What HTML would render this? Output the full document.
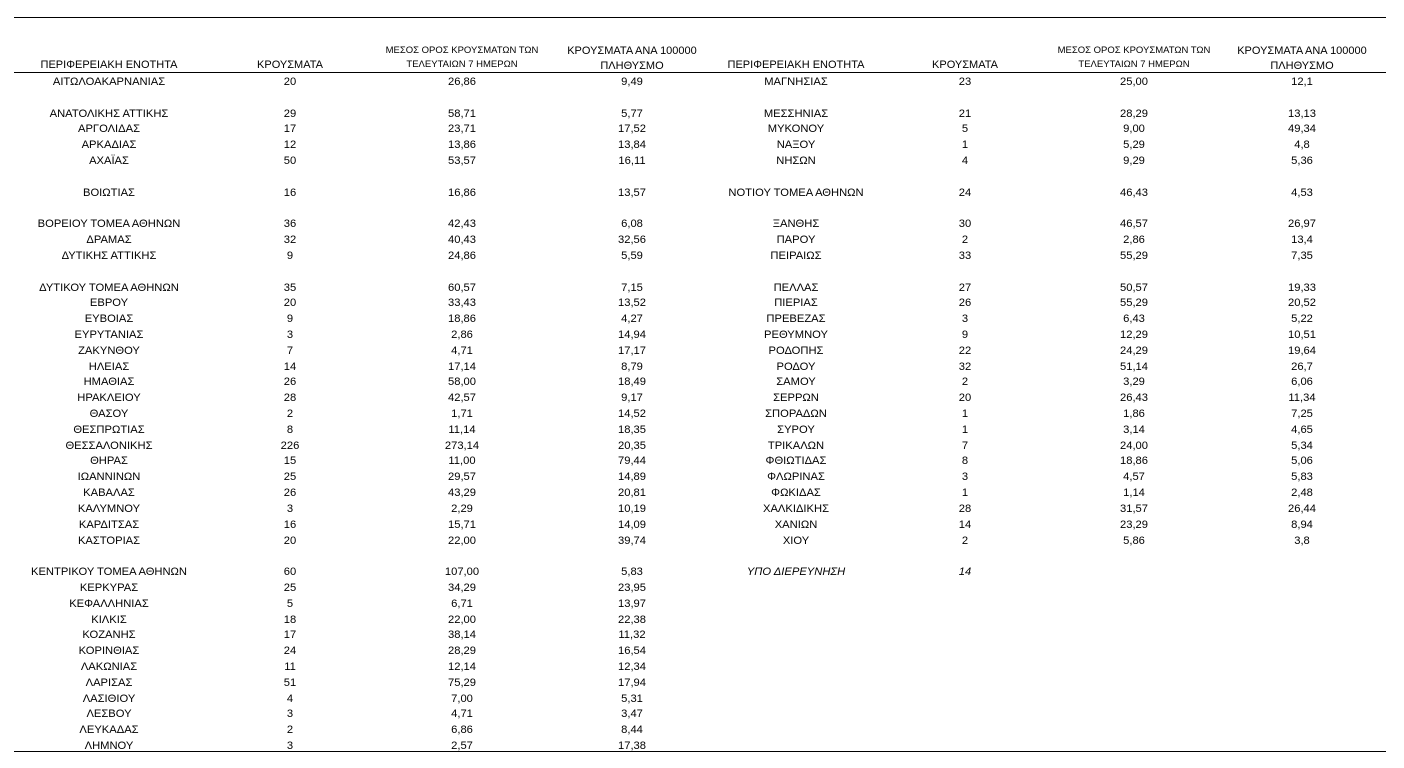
<!DOCTYPE html>
<html><head><meta charset="utf-8"><style>
body{margin:0;width:1404px;height:768px;background:#fff;position:relative;font-family:"Liberation Sans","DejaVu Sans",sans-serif;color:#000;overflow:hidden}
.ln{position:absolute;left:14px;width:1372px;height:1px;background:#000}
.h{position:absolute;text-align:center;font-size:11px;line-height:13px}
.hs{font-size:9.5px;line-height:14px}
table{position:absolute;left:14px;top:75px;border-collapse:collapse;table-layout:fixed;width:1376px;font-size:11.2px}
td{height:15.81px;padding:0;text-align:center;white-space:nowrap;line-height:15.81px}
i{font-style:italic}
</style></head><body>
<div class="ln" style="top:17px"></div>
<div class="ln" style="top:72px"></div>
<div class="ln" style="top:751px"></div>

<div class="h" style="left:14px;width:190px;top:59px">ΠΕΡΙΦΕΡΕΙΑΚΗ ΕΝΟΤΗΤΑ</div>
<div class="h" style="left:204px;width:172px;top:59px">ΚΡΟΥΣΜΑΤΑ</div>
<div class="h hs" style="left:362px;width:200px;top:44px">ΜΕΣΟΣ ΟΡΟΣ ΚΡΟΥΣΜΑΤΩΝ ΤΩΝ<br>ΤΕΛΕΥΤΑΙΩΝ 7 ΗΜΕΡΩΝ</div>
<div class="h" style="left:532px;width:200px;top:44px;line-height:15px">ΚΡΟΥΣΜΑΤΑ ΑΝΑ 100000<br>ΠΛΗΘΥΣΜΟ</div>
<div class="h" style="left:716px;width:160px;top:59px">ΠΕΡΙΦΕΡΕΙΑΚΗ ΕΝΟΤΗΤΑ</div>
<div class="h" style="left:876px;width:178px;top:59px">ΚΡΟΥΣΜΑΤΑ</div>
<div class="h hs" style="left:1034px;width:200px;top:44px">ΜΕΣΟΣ ΟΡΟΣ ΚΡΟΥΣΜΑΤΩΝ ΤΩΝ<br>ΤΕΛΕΥΤΑΙΩΝ 7 ΗΜΕΡΩΝ</div>
<div class="h" style="left:1202px;width:200px;top:44px;line-height:15px">ΚΡΟΥΣΜΑΤΑ ΑΝΑ 100000<br>ΠΛΗΘΥΣΜΟ</div>

<table>
<colgroup><col style="width:190px"><col style="width:172px"><col style="width:172px"><col style="width:168px"><col style="width:160px"><col style="width:178px"><col style="width:160px"><col style="width:176px"></colgroup>
<tr><td>ΑΙΤΩΛΟΑΚΑΡΝΑΝΙΑΣ</td><td>20</td><td>26,86</td><td>9,49</td><td>ΜΑΓΝΗΣΙΑΣ</td><td>23</td><td>25,00</td><td>12,1</td></tr>
<tr><td></td><td></td><td></td><td></td><td></td><td></td><td></td><td></td></tr>
<tr><td>ΑΝΑΤΟΛΙΚΗΣ ΑΤΤΙΚΗΣ</td><td>29</td><td>58,71</td><td>5,77</td><td>ΜΕΣΣΗΝΙΑΣ</td><td>21</td><td>28,29</td><td>13,13</td></tr>
<tr><td>ΑΡΓΟΛΙΔΑΣ</td><td>17</td><td>23,71</td><td>17,52</td><td>ΜΥΚΟΝΟΥ</td><td>5</td><td>9,00</td><td>49,34</td></tr>
<tr><td>ΑΡΚΑΔΙΑΣ</td><td>12</td><td>13,86</td><td>13,84</td><td>ΝΑΞΟΥ</td><td>1</td><td>5,29</td><td>4,8</td></tr>
<tr><td>ΑΧΑΪΑΣ</td><td>50</td><td>53,57</td><td>16,11</td><td>ΝΗΣΩΝ</td><td>4</td><td>9,29</td><td>5,36</td></tr>
<tr><td></td><td></td><td></td><td></td><td></td><td></td><td></td><td></td></tr>
<tr><td>ΒΟΙΩΤΙΑΣ</td><td>16</td><td>16,86</td><td>13,57</td><td>ΝΟΤΙΟΥ ΤΟΜΕΑ ΑΘΗΝΩΝ</td><td>24</td><td>46,43</td><td>4,53</td></tr>
<tr><td></td><td></td><td></td><td></td><td></td><td></td><td></td><td></td></tr>
<tr><td>ΒΟΡΕΙΟΥ ΤΟΜΕΑ ΑΘΗΝΩΝ</td><td>36</td><td>42,43</td><td>6,08</td><td>ΞΑΝΘΗΣ</td><td>30</td><td>46,57</td><td>26,97</td></tr>
<tr><td>ΔΡΑΜΑΣ</td><td>32</td><td>40,43</td><td>32,56</td><td>ΠΑΡΟΥ</td><td>2</td><td>2,86</td><td>13,4</td></tr>
<tr><td>ΔΥΤΙΚΗΣ ΑΤΤΙΚΗΣ</td><td>9</td><td>24,86</td><td>5,59</td><td>ΠΕΙΡΑΙΩΣ</td><td>33</td><td>55,29</td><td>7,35</td></tr>
<tr><td></td><td></td><td></td><td></td><td></td><td></td><td></td><td></td></tr>
<tr><td>ΔΥΤΙΚΟΥ ΤΟΜΕΑ ΑΘΗΝΩΝ</td><td>35</td><td>60,57</td><td>7,15</td><td>ΠΕΛΛΑΣ</td><td>27</td><td>50,57</td><td>19,33</td></tr>
<tr><td>ΕΒΡΟΥ</td><td>20</td><td>33,43</td><td>13,52</td><td>ΠΙΕΡΙΑΣ</td><td>26</td><td>55,29</td><td>20,52</td></tr>
<tr><td>ΕΥΒΟΙΑΣ</td><td>9</td><td>18,86</td><td>4,27</td><td>ΠΡΕΒΕΖΑΣ</td><td>3</td><td>6,43</td><td>5,22</td></tr>
<tr><td>ΕΥΡΥΤΑΝΙΑΣ</td><td>3</td><td>2,86</td><td>14,94</td><td>ΡΕΘΥΜΝΟΥ</td><td>9</td><td>12,29</td><td>10,51</td></tr>
<tr><td>ΖΑΚΥΝΘΟΥ</td><td>7</td><td>4,71</td><td>17,17</td><td>ΡΟΔΟΠΗΣ</td><td>22</td><td>24,29</td><td>19,64</td></tr>
<tr><td>ΗΛΕΙΑΣ</td><td>14</td><td>17,14</td><td>8,79</td><td>ΡΟΔΟΥ</td><td>32</td><td>51,14</td><td>26,7</td></tr>
<tr><td>ΗΜΑΘΙΑΣ</td><td>26</td><td>58,00</td><td>18,49</td><td>ΣΑΜΟΥ</td><td>2</td><td>3,29</td><td>6,06</td></tr>
<tr><td>ΗΡΑΚΛΕΙΟΥ</td><td>28</td><td>42,57</td><td>9,17</td><td>ΣΕΡΡΩΝ</td><td>20</td><td>26,43</td><td>11,34</td></tr>
<tr><td>ΘΑΣΟΥ</td><td>2</td><td>1,71</td><td>14,52</td><td>ΣΠΟΡΑΔΩΝ</td><td>1</td><td>1,86</td><td>7,25</td></tr>
<tr><td>ΘΕΣΠΡΩΤΙΑΣ</td><td>8</td><td>11,14</td><td>18,35</td><td>ΣΥΡΟΥ</td><td>1</td><td>3,14</td><td>4,65</td></tr>
<tr><td>ΘΕΣΣΑΛΟΝΙΚΗΣ</td><td>226</td><td>273,14</td><td>20,35</td><td>ΤΡΙΚΑΛΩΝ</td><td>7</td><td>24,00</td><td>5,34</td></tr>
<tr><td>ΘΗΡΑΣ</td><td>15</td><td>11,00</td><td>79,44</td><td>ΦΘΙΩΤΙΔΑΣ</td><td>8</td><td>18,86</td><td>5,06</td></tr>
<tr><td>ΙΩΑΝΝΙΝΩΝ</td><td>25</td><td>29,57</td><td>14,89</td><td>ΦΛΩΡΙΝΑΣ</td><td>3</td><td>4,57</td><td>5,83</td></tr>
<tr><td>ΚΑΒΑΛΑΣ</td><td>26</td><td>43,29</td><td>20,81</td><td>ΦΩΚΙΔΑΣ</td><td>1</td><td>1,14</td><td>2,48</td></tr>
<tr><td>ΚΑΛΥΜΝΟΥ</td><td>3</td><td>2,29</td><td>10,19</td><td>ΧΑΛΚΙΔΙΚΗΣ</td><td>28</td><td>31,57</td><td>26,44</td></tr>
<tr><td>ΚΑΡΔΙΤΣΑΣ</td><td>16</td><td>15,71</td><td>14,09</td><td>ΧΑΝΙΩΝ</td><td>14</td><td>23,29</td><td>8,94</td></tr>
<tr><td>ΚΑΣΤΟΡΙΑΣ</td><td>20</td><td>22,00</td><td>39,74</td><td>ΧΙΟΥ</td><td>2</td><td>5,86</td><td>3,8</td></tr>
<tr><td></td><td></td><td></td><td></td><td></td><td></td><td></td><td></td></tr>
<tr><td>ΚΕΝΤΡΙΚΟΥ ΤΟΜΕΑ ΑΘΗΝΩΝ</td><td>60</td><td>107,00</td><td>5,83</td><td><i>ΥΠΟ ΔΙΕΡΕΥΝΗΣΗ</i></td><td><i>14</i></td><td></td><td></td></tr>
<tr><td>ΚΕΡΚΥΡΑΣ</td><td>25</td><td>34,29</td><td>23,95</td><td></td><td></td><td></td><td></td></tr>
<tr><td>ΚΕΦΑΛΛΗΝΙΑΣ</td><td>5</td><td>6,71</td><td>13,97</td><td></td><td></td><td></td><td></td></tr>
<tr><td>ΚΙΛΚΙΣ</td><td>18</td><td>22,00</td><td>22,38</td><td></td><td></td><td></td><td></td></tr>
<tr><td>ΚΟΖΑΝΗΣ</td><td>17</td><td>38,14</td><td>11,32</td><td></td><td></td><td></td><td></td></tr>
<tr><td>ΚΟΡΙΝΘΙΑΣ</td><td>24</td><td>28,29</td><td>16,54</td><td></td><td></td><td></td><td></td></tr>
<tr><td>ΛΑΚΩΝΙΑΣ</td><td>11</td><td>12,14</td><td>12,34</td><td></td><td></td><td></td><td></td></tr>
<tr><td>ΛΑΡΙΣΑΣ</td><td>51</td><td>75,29</td><td>17,94</td><td></td><td></td><td></td><td></td></tr>
<tr><td>ΛΑΣΙΘΙΟΥ</td><td>4</td><td>7,00</td><td>5,31</td><td></td><td></td><td></td><td></td></tr>
<tr><td>ΛΕΣΒΟΥ</td><td>3</td><td>4,71</td><td>3,47</td><td></td><td></td><td></td><td></td></tr>
<tr><td>ΛΕΥΚΑΔΑΣ</td><td>2</td><td>6,86</td><td>8,44</td><td></td><td></td><td></td><td></td></tr>
<tr><td>ΛΗΜΝΟΥ</td><td>3</td><td>2,57</td><td>17,38</td><td></td><td></td><td></td><td></td></tr>
</table>
</body></html>
